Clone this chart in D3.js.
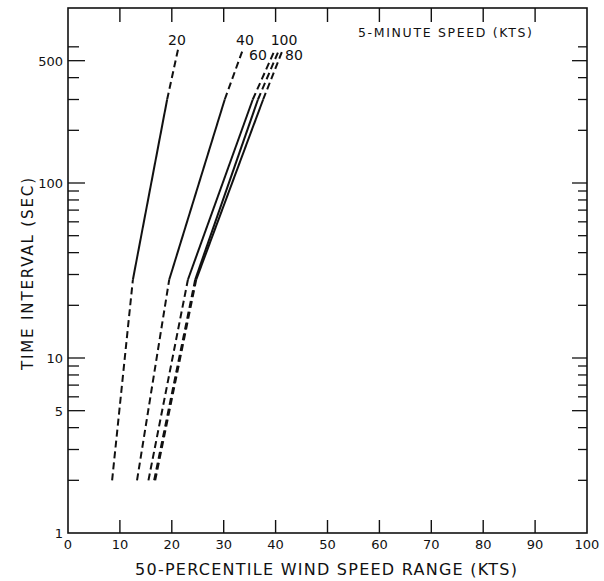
<!DOCTYPE html>
<html>
<head>
<meta charset="utf-8">
<script src="https://cdn.jsdelivr.net/npm/d3@7"></script>
<style>
  body { margin: 0; background: #fff; }
  text { font-family: "DejaVu Sans", sans-serif; fill: #111; }
</style>
</head>
<body>
<div id="vis"></div>
<script>
var width = 604,
    height = 581;

// 5-minute speeds (kts), one curve each
var speeds = [20, 40, 60, 100, 80];
// time levels (sec) where each curve bends
var timeLevels = [2, 28, 300, 580];
// 50-percentile range (kts) at each time level
var range20  = [8.5, 12.5, 19.1, 21.2];
var range40  = [13.3, 19.5, 30.2, 33.7];
var range60  = [15.5, 23.1, 35.6, 39.9];
var range100 = [16.6, 24.5, 36.6, 40.7];
var range80  = [16.8, 24.7, 37.6, 41.4];
var ranges = [range20, range40, range60, range100, range80];
// segment styles between levels
var segDash = [true, false, true];

var xTicks = [0, 10, 20, 30, 40, 50, 60, 70, 80, 90, 100];
var yTicks = [2, 3, 4, 5, 6, 7, 8, 9, 10, 20, 30, 40, 50, 60, 70, 80, 90, 100, 200, 300, 400, 500, 600];
var yMajor = [5, 10, 100, 500];
var yLabels = [1, 5, 10, 100, 500];

var pLeft = 68, pRight = 587, pTop = 8, pBottom = 533;

var svg = d3.select("#vis").append("svg")
    .attr("width", width)
    .attr("height", height);

var x = d3.scaleLinear().domain([0, 100]).range([pLeft, pRight]);
var y = d3.scaleLog().domain([1, 1000]).range([pBottom, pTop]);

// frame
svg.append("rect")
    .attr("x", pLeft).attr("y", pTop)
    .attr("width", pRight - pLeft).attr("height", pBottom - pTop)
    .attr("fill", "none").attr("stroke", "#111").attr("stroke-width", 1.6);

// x ticks (bottom and top, pointing inward)
var inner = xTicks.filter(function(d) { return d > 0 && d < 100; });
svg.selectAll(".xtb").data(inner).enter().append("line")
    .attr("x1", x).attr("x2", x)
    .attr("y1", pBottom).attr("y2", pBottom - 13)
    .attr("stroke", "#111").attr("stroke-width", 1.4);
svg.selectAll(".xtt").data(inner).enter().append("line")
    .attr("x1", x).attr("x2", x)
    .attr("y1", pTop).attr("y2", pTop + 14)
    .attr("stroke", "#111").attr("stroke-width", 1.4);
svg.selectAll(".xl").data(xTicks).enter().append("text")
    .attr("x", x).attr("y", 549)
    .attr("text-anchor", "middle")
    .style("font-size", "13px")
    .text(function(d) { return d; });

// y ticks (left and right, pointing inward)
function tickLen(d) { return yMajor.indexOf(d) >= 0 ? 17 : 11; }
svg.selectAll(".ytl").data(yTicks).enter().append("line")
    .attr("x1", pLeft).attr("x2", function(d) { return pLeft + tickLen(d); })
    .attr("y1", y).attr("y2", y)
    .attr("stroke", "#111").attr("stroke-width", 1.3);
svg.selectAll(".ytr").data(yTicks).enter().append("line")
    .attr("x1", pRight).attr("x2", function(d) { return pRight - (tickLen(d) - 2); })
    .attr("y1", y).attr("y2", y)
    .attr("stroke", "#111").attr("stroke-width", 1.3);
svg.selectAll(".yl").data(yLabels).enter().append("text")
    .attr("x", pLeft - 5).attr("y", function(d) { return y(d) + 5; })
    .attr("text-anchor", "end")
    .style("font-size", "13px")
    .text(function(d) { return d; });

// curves
var line = d3.line()
    .x(function(d) { return x(d[0]); })
    .y(function(d) { return y(d[1]); });

ranges.forEach(function(r) {
  for (var i = 0; i < segDash.length; i++) {
    svg.append("path")
        .attr("d", line([[r[i], timeLevels[i]], [r[i + 1], timeLevels[i + 1]]]))
        .attr("fill", "none")
        .attr("stroke", "#111")
        .attr("stroke-width", 2)
        .attr("stroke-dasharray", segDash[i] ? "7,4" : null);
  }
});

// curve labels
var labelPos = [[177, 45], [245, 45], [258, 60], [284, 45], [294, 60]];
svg.selectAll(".cl").data(speeds).enter().append("text")
    .attr("x", function(d, i) { return labelPos[i][0]; })
    .attr("y", function(d, i) { return labelPos[i][1]; })
    .attr("text-anchor", "middle")
    .style("font-size", "14px")
    .text(function(d) { return d; });

svg.append("text")
    .attr("x", 445).attr("y", 37)
    .attr("text-anchor", "middle")
    .attr("textLength", 174)
    .style("font-size", "12.5px")
    .text("5-MINUTE SPEED (KTS)");

// axis titles
svg.append("text")
    .attr("x", 326).attr("y", 575)
    .attr("text-anchor", "middle")
    .attr("textLength", 382)
    .style("font-size", "16px")
    .text("50-PERCENTILE WIND SPEED RANGE (KTS)");

svg.append("text")
    .attr("transform", "translate(33,274) rotate(-90)")
    .attr("text-anchor", "middle")
    .attr("textLength", 192)
    .style("font-size", "15px")
    .text("TIME INTERVAL (SEC)");
</script>
</body>
</html>
